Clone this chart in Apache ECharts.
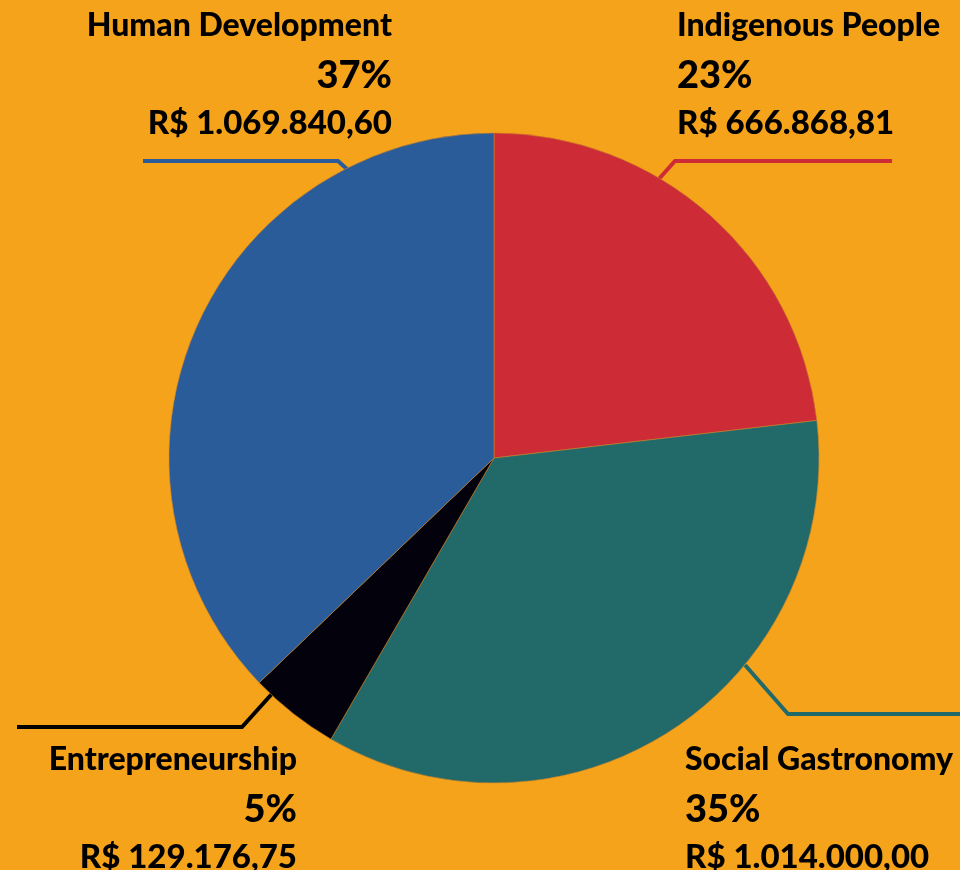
<!DOCTYPE html>
<html>
<head>
<meta charset="utf-8">
<script src="https://cdn.jsdelivr.net/npm/echarts@6/dist/echarts.min.js"></script>
<style>
  html, body { margin: 0; padding: 0; background: #f5a31a; }
  #chart { width: 960px; height: 870px; }
</style>
</head>
<body>
<div id="chart"></div>
<script>
  // data
  var categories = ['Indigenous People', 'Social Gastronomy', 'Entrepreneurship', 'Human Development']
  var amounts = [666868.81, 1014000.00, 129176.75, 1069840.60]
  var colors = ['#cd2b36', '#226a6a', '#03020c', '#2a5c9a']
  var lineColors = ['#cd2b36', '#226a6a', '#000000', '#2a5c9a']

  // label placement (x, y, align) and leader lines
  var labelPos = [
    { x: 677, y: 0, align: 'left' },
    { x: 685, y: 734, align: 'left' },
    { x: 297, y: 734, align: 'right' },
    { x: 392, y: 0, align: 'right' }
  ]
  var linePts = [
    [[658, 180], [675, 161], [892, 161]],
    [[745, 665], [788, 714], [960, 714]],
    [[297, 666], [242, 727], [17, 727]],
    [[348, 170], [338, 161], [143, 161]]
  ]

  function brl (v) {
    var parts = v.toFixed(2).split('.')
    var int = parts[0].replace(/\B(?=(\d{3})+(?!\d))/g, '.')
    return 'R$ ' + int + ',' + parts[1]
  }

  var myChart = echarts.init(document.getElementById('chart'))
  var font = 'Lato'
  myChart.setOption({
    backgroundColor: '#f5a31a',
    animation: false,
    series: [{
      type: 'pie',
      center: [494, 458],
      radius: 325,
      startAngle: 90,
      clockwise: true,
      percentPrecision: 0,
      avoidLabelOverlap: false,
      itemStyle: {
        borderColor: '#c9822a',
        borderWidth: 0.6
      },
      label: {
        show: true,
        formatter: function (p) {
          return '{n|' + p.name + '}\n{p|' + p.percent + '%}\n{v|' + brl(p.value) + '}'
        },
        rich: {
          n: { fontFamily: font, fontWeight: 900, fontSize: 32, color: '#000', lineHeight: 52 },
          p: { fontFamily: font, fontWeight: 900, fontSize: 38, color: '#000', lineHeight: 48 },
          v: { fontFamily: font, fontWeight: 900, fontSize: 33, color: '#000', lineHeight: 46 }
        }
      },
      labelLine: {
        show: true,
        lineStyle: { width: 4 }
      },
      labelLayout: function (params) {
        var i = params.dataIndex
        return {
          x: labelPos[i].x,
          y: labelPos[i].y,
          align: labelPos[i].align,
          verticalAlign: 'top',
          labelLinePoints: linePts[i],
          hideOverlap: false
        }
      },
      data: categories.map(function (c, i) {
        return {
          name: c,
          value: amounts[i],
          itemStyle: { color: colors[i] },
          label: { align: labelPos[i].align },
          labelLine: { lineStyle: { color: lineColors[i] } }
        }
      })
    }]
  })
</script>
</body>
</html>
